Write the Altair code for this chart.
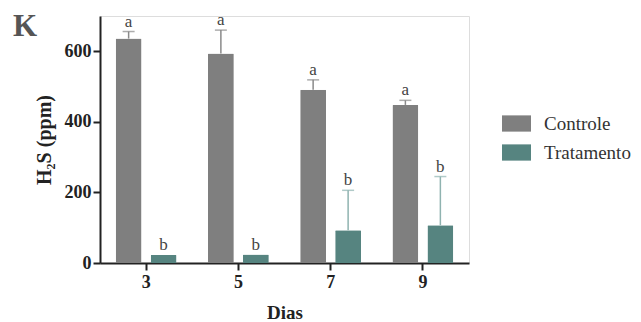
import altair as alt
import pandas as pd

dias = ["3", "5", "7", "9"]
grupos = ["Controle", "Tratamento"]
controle = [636, 594, 491, 448]
controle_err = [20, 66, 28, 13]
tratamento = [23, 24, 93, 107]
tratamento_err = [0, 0, 113, 138]
letras_controle = ["a", "a", "a", "a"]
letras_tratamento = ["b", "b", "b", "b"]

rows = []
for i, d in enumerate(dias):
    rows.append({"Dias": d, "Grupo": "Controle", "valor": controle[i],
                 "topo": controle[i] + controle_err[i], "letra": letras_controle[i]})
    rows.append({"Dias": d, "Grupo": "Tratamento", "valor": tratamento[i],
                 "topo": tratamento[i] + tratamento_err[i], "letra": letras_tratamento[i]})
df = pd.DataFrame(rows)

FONT = "Liberation Serif"
cores = ["#7f7f7f", "#568480"]
cores_err = ["#8a8a8a", "#8fb3b0"]

x = alt.X("Dias:N", title="Dias", sort=dias,
          scale=alt.Scale(paddingInner=0.34, paddingOuter=0.17),
          axis=alt.Axis(labelAngle=0, labelFont=FONT, labelFontWeight="bold",
                        labelFontSize=18, labelColor="#222", labelPadding=3,
                        titleFont=FONT, titleFontWeight="bold", titleFontSize=19,
                        titleColor="#222", titlePadding=12,
                        domainColor="#222", domainWidth=2, tickColor="#222",
                        tickWidth=2, tickSize=7))
xo = alt.XOffset("Grupo:N", sort=grupos, scale=alt.Scale(paddingInner=0.26))
yscale = alt.Scale(domain=[0, 700], nice=False)

bars = alt.Chart(df).mark_bar(cornerRadius=1).encode(
    x=x, xOffset=xo,
    y=alt.Y("valor:Q", scale=yscale, title="H₂S (ppm)",
            axis=alt.Axis(values=[0, 200, 400, 600], grid=False,
                          labelFont=FONT, labelFontWeight="bold", labelFontSize=18,
                          labelColor="#222", labelPadding=2,
                          titleFont=FONT, titleFontWeight="bold", titleFontSize=20,
                          titleColor="#222", titlePadding=10,
                          domainColor="#222", domainWidth=2, tickColor="#222",
                          tickWidth=2, tickSize=7)),
    color=alt.Color("Grupo:N", sort=grupos, title=None,
                    scale=alt.Scale(domain=grupos, range=cores),
                    legend=alt.Legend(orient="none", legendX=402, legendY=93,
                                      symbolType="M-1,-0.56L1,-0.56L1,0.56L-1,0.56Z",
                                      symbolSize=841, symbolStrokeWidth=0,
                                      labelFont=FONT, labelFontSize=19,
                                      labelColor="#333", labelOffset=13,
                                      rowPadding=4, padding=0)),
)

err = alt.Chart(df).mark_rule(strokeWidth=1.5).encode(
    x=x, xOffset=xo,
    y=alt.Y("valor:Q", scale=yscale), y2="topo:Q",
    color=alt.Color("Grupo:N", sort=grupos, scale=alt.Scale(domain=grupos, range=cores_err), legend=None),
).transform_filter("datum.topo > datum.valor")

caps = alt.Chart(df).mark_tick(size=12, thickness=1.5).encode(
    x=x, xOffset=xo,
    y=alt.Y("topo:Q", scale=yscale),
    color=alt.Color("Grupo:N", sort=grupos, scale=alt.Scale(domain=grupos, range=cores_err), legend=None),
).transform_filter("datum.topo > datum.valor")

letras = alt.Chart(df).mark_text(font=FONT, fontSize=17, color="#444",
                                 baseline="alphabetic", dy=-5).encode(
    x=x, xOffset=xo,
    y=alt.Y("topo:Q", scale=yscale),
    text="letra:N",
)

chart = alt.layer(bars, err, caps, letras).resolve_scale(color="independent").properties(
    width=369, height=247,
    autosize=alt.AutoSizeParams(type="none"),
    padding={"left": 92, "top": 8, "right": 164, "bottom": 59},
    title=alt.TitleParams(text="K", anchor="start", frame="group", dx=-87, dy=56,
                          offset=0, baseline="alphabetic", font=FONT,
                          fontSize=31, fontWeight="bold", color="#555"),
).configure_view(stroke=None).configure(background="white")

chart.save("out.html", embed_options={"renderer": "svg", "actions": False})
